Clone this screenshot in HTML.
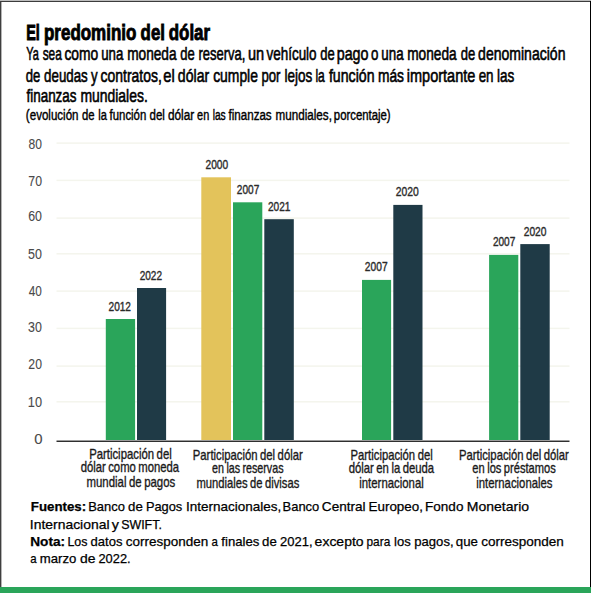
<!DOCTYPE html><html><head><meta charset="utf-8"><style>html,body{margin:0;padding:0;background:#fff;width:591px;height:593px;overflow:hidden}svg{display:block}text{font-family:"Liberation Sans",sans-serif}</style></head><body><svg width="591" height="593" viewBox="0 0 591 593"><rect x="0" y="0" width="591" height="593" fill="#fff"/><rect x="0" y="0" width="591" height="1" fill="#bdbdbd"/><rect x="0" y="1" width="591" height="1" fill="#3c3c3c"/><rect x="0" y="1" width="1" height="586" fill="#3f3f3f"/><rect x="1" y="2" width="1" height="585" fill="#b4b4b4"/><rect x="590" y="1" width="1" height="586" fill="#000"/><rect x="0" y="587" width="591" height="6" fill="#2aa55a"/><rect x="56.5" y="142.35" width="513" height="1.5" fill="#f4f5ed"/><rect x="56.5" y="179.65" width="513" height="1.5" fill="#f4f5ed"/><rect x="56.5" y="217.35" width="513" height="1.5" fill="#f4f5ed"/><rect x="56.5" y="253.05" width="513" height="1.5" fill="#f4f5ed"/><rect x="56.5" y="290.35" width="513" height="1.5" fill="#f4f5ed"/><rect x="56.5" y="327.65" width="513" height="1.5" fill="#f4f5ed"/><rect x="56.5" y="365.35" width="513" height="1.5" fill="#f4f5ed"/><rect x="56.5" y="401.05" width="513" height="1.5" fill="#f4f5ed"/><rect x="105.80" y="319.00" width="29.30" height="121.00" fill="#2aa55a"/><rect x="137.00" y="288.00" width="29.10" height="152.00" fill="#1f3a46"/><rect x="201.30" y="177.30" width="29.70" height="262.70" fill="#e3c35b"/><rect x="233.00" y="202.30" width="29.30" height="237.70" fill="#2aa55a"/><rect x="264.30" y="219.20" width="29.50" height="220.80" fill="#1f3a46"/><rect x="362.00" y="279.90" width="29.10" height="160.10" fill="#2aa55a"/><rect x="393.30" y="204.90" width="29.20" height="235.10" fill="#1f3a46"/><rect x="489.10" y="254.90" width="29.20" height="185.10" fill="#2aa55a"/><rect x="520.30" y="244.10" width="29.40" height="195.90" fill="#1f3a46"/><rect x="56.5" y="440" width="513" height="1" fill="#9c9c9c"/><rect x="56.5" y="441" width="513" height="1" fill="#2f2f2f"/><text x="26.16" y="39.70" font-size="21.80" font-weight="bold" fill="#000" stroke="#000" stroke-width="0.9" textLength="13.62" lengthAdjust="spacingAndGlyphs">El</text><text x="43.99" y="39.70" font-size="21.80" font-weight="bold" fill="#000" stroke="#000" stroke-width="0.9" textLength="92.36" lengthAdjust="spacingAndGlyphs">predominio</text><text x="140.61" y="39.70" font-size="21.80" font-weight="bold" fill="#000" stroke="#000" stroke-width="0.9" textLength="24.31" lengthAdjust="spacingAndGlyphs">del</text><text x="168.77" y="39.70" font-size="21.80" font-weight="bold" fill="#000" stroke="#000" stroke-width="0.9" textLength="41.26" lengthAdjust="spacingAndGlyphs">dólar</text><text x="26.17" y="60.30" font-size="19.00" font-weight="normal" fill="#000" stroke="#000" stroke-width="0.6" textLength="12.58" lengthAdjust="spacingAndGlyphs">Ya</text><text x="42.66" y="60.30" font-size="19.00" font-weight="normal" fill="#000" stroke="#000" stroke-width="0.6" textLength="19.15" lengthAdjust="spacingAndGlyphs">sea</text><text x="64.39" y="60.30" font-size="19.00" font-weight="normal" fill="#000" stroke="#000" stroke-width="0.6" textLength="33.83" lengthAdjust="spacingAndGlyphs">como</text><text x="101.15" y="60.30" font-size="19.00" font-weight="normal" fill="#000" stroke="#000" stroke-width="0.6" textLength="22.14" lengthAdjust="spacingAndGlyphs">una</text><text x="127.17" y="60.30" font-size="19.00" font-weight="normal" fill="#000" stroke="#000" stroke-width="0.6" textLength="49.41" lengthAdjust="spacingAndGlyphs">moneda</text><text x="180.17" y="60.30" font-size="19.00" font-weight="normal" fill="#000" stroke="#000" stroke-width="0.6" textLength="14.49" lengthAdjust="spacingAndGlyphs">de</text><text x="198.46" y="60.30" font-size="19.00" font-weight="normal" fill="#000" stroke="#000" stroke-width="0.6" textLength="46.98" lengthAdjust="spacingAndGlyphs">reserva,</text><text x="247.98" y="60.30" font-size="19.00" font-weight="normal" fill="#000" stroke="#000" stroke-width="0.6" textLength="16.21" lengthAdjust="spacingAndGlyphs">un</text><text x="266.50" y="60.30" font-size="19.00" font-weight="normal" fill="#000" stroke="#000" stroke-width="0.6" textLength="50.08" lengthAdjust="spacingAndGlyphs">vehículo</text><text x="320.17" y="60.30" font-size="19.00" font-weight="normal" fill="#000" stroke="#000" stroke-width="0.6" textLength="14.49" lengthAdjust="spacingAndGlyphs">de</text><text x="336.71" y="60.30" font-size="19.00" font-weight="normal" fill="#000" stroke="#000" stroke-width="0.6" textLength="31.78" lengthAdjust="spacingAndGlyphs">pago</text><text x="370.97" y="60.30" font-size="19.00" font-weight="normal" fill="#000" stroke="#000" stroke-width="0.6" textLength="7.41" lengthAdjust="spacingAndGlyphs">o</text><text x="381.33" y="60.30" font-size="19.00" font-weight="normal" fill="#000" stroke="#000" stroke-width="0.6" textLength="22.26" lengthAdjust="spacingAndGlyphs">una</text><text x="407.18" y="60.30" font-size="19.00" font-weight="normal" fill="#000" stroke="#000" stroke-width="0.6" textLength="49.45" lengthAdjust="spacingAndGlyphs">moneda</text><text x="460.66" y="60.30" font-size="19.00" font-weight="normal" fill="#000" stroke="#000" stroke-width="0.6" textLength="14.54" lengthAdjust="spacingAndGlyphs">de</text><text x="478.10" y="60.30" font-size="19.00" font-weight="normal" fill="#000" stroke="#000" stroke-width="0.6" textLength="87.34" lengthAdjust="spacingAndGlyphs">denominación</text><text x="25.82" y="81.50" font-size="19.00" font-weight="normal" fill="#000" stroke="#000" stroke-width="0.6" textLength="14.60" lengthAdjust="spacingAndGlyphs">de</text><text x="44.12" y="81.50" font-size="19.00" font-weight="normal" fill="#000" stroke="#000" stroke-width="0.6" textLength="43.63" lengthAdjust="spacingAndGlyphs">deudas</text><text x="91.10" y="81.50" font-size="19.00" font-weight="normal" fill="#000" stroke="#000" stroke-width="0.6" textLength="6.60" lengthAdjust="spacingAndGlyphs">y</text><text x="100.62" y="81.50" font-size="19.00" font-weight="normal" fill="#000" stroke="#000" stroke-width="0.6" textLength="61.24" lengthAdjust="spacingAndGlyphs">contratos,</text><text x="163.34" y="81.50" font-size="19.00" font-weight="normal" fill="#000" stroke="#000" stroke-width="0.6" textLength="11.46" lengthAdjust="spacingAndGlyphs">el</text><text x="177.86" y="81.50" font-size="19.00" font-weight="normal" fill="#000" stroke="#000" stroke-width="0.6" textLength="31.31" lengthAdjust="spacingAndGlyphs">dólar</text><text x="213.14" y="81.50" font-size="19.00" font-weight="normal" fill="#000" stroke="#000" stroke-width="0.6" textLength="44.79" lengthAdjust="spacingAndGlyphs">cumple</text><text x="261.43" y="81.50" font-size="19.00" font-weight="normal" fill="#000" stroke="#000" stroke-width="0.6" textLength="19.03" lengthAdjust="spacingAndGlyphs">por</text><text x="284.42" y="81.50" font-size="19.00" font-weight="normal" fill="#000" stroke="#000" stroke-width="0.6" textLength="27.77" lengthAdjust="spacingAndGlyphs">lejos</text><text x="315.43" y="81.50" font-size="19.00" font-weight="normal" fill="#000" stroke="#000" stroke-width="0.6" textLength="9.40" lengthAdjust="spacingAndGlyphs">la</text><text x="328.92" y="81.50" font-size="19.00" font-weight="normal" fill="#000" stroke="#000" stroke-width="0.6" textLength="45.62" lengthAdjust="spacingAndGlyphs">función</text><text x="377.96" y="81.50" font-size="19.00" font-weight="normal" fill="#000" stroke="#000" stroke-width="0.6" textLength="26.07" lengthAdjust="spacingAndGlyphs">más</text><text x="406.73" y="81.50" font-size="19.00" font-weight="normal" fill="#000" stroke="#000" stroke-width="0.6" textLength="68.64" lengthAdjust="spacingAndGlyphs">importante</text><text x="478.66" y="81.50" font-size="19.00" font-weight="normal" fill="#000" stroke="#000" stroke-width="0.6" textLength="14.93" lengthAdjust="spacingAndGlyphs">en</text><text x="496.88" y="81.50" font-size="19.00" font-weight="normal" fill="#000" stroke="#000" stroke-width="0.6" textLength="17.32" lengthAdjust="spacingAndGlyphs">las</text><text x="26.47" y="101.70" font-size="19.00" font-weight="normal" fill="#000" stroke="#000" stroke-width="0.6" textLength="50.06" lengthAdjust="spacingAndGlyphs">finanzas</text><text x="80.39" y="101.70" font-size="19.00" font-weight="normal" fill="#000" stroke="#000" stroke-width="0.6" textLength="67.41" lengthAdjust="spacingAndGlyphs">mundiales.</text><text x="25.87" y="120.20" font-size="14.00" font-weight="normal" fill="#000" stroke="#000" stroke-width="0.4" textLength="52.67" lengthAdjust="spacingAndGlyphs">(evolución</text><text x="82.09" y="120.20" font-size="14.00" font-weight="normal" fill="#000" stroke="#000" stroke-width="0.4" textLength="12.55" lengthAdjust="spacingAndGlyphs">de</text><text x="98.31" y="120.20" font-size="14.00" font-weight="normal" fill="#000" stroke="#000" stroke-width="0.4" textLength="8.63" lengthAdjust="spacingAndGlyphs">la</text><text x="109.54" y="120.20" font-size="14.00" font-weight="normal" fill="#000" stroke="#000" stroke-width="0.4" textLength="36.76" lengthAdjust="spacingAndGlyphs">función</text><text x="149.54" y="120.20" font-size="14.00" font-weight="normal" fill="#000" stroke="#000" stroke-width="0.4" textLength="15.36" lengthAdjust="spacingAndGlyphs">del</text><text x="167.88" y="120.20" font-size="14.00" font-weight="normal" fill="#000" stroke="#000" stroke-width="0.4" textLength="26.26" lengthAdjust="spacingAndGlyphs">dólar</text><text x="197.11" y="120.20" font-size="14.00" font-weight="normal" fill="#000" stroke="#000" stroke-width="0.4" textLength="12.16" lengthAdjust="spacingAndGlyphs">en</text><text x="212.65" y="120.20" font-size="14.00" font-weight="normal" fill="#000" stroke="#000" stroke-width="0.4" textLength="13.05" lengthAdjust="spacingAndGlyphs">las</text><text x="228.55" y="120.20" font-size="14.00" font-weight="normal" fill="#000" stroke="#000" stroke-width="0.4" textLength="43.12" lengthAdjust="spacingAndGlyphs">finanzas</text><text x="275.55" y="120.20" font-size="14.00" font-weight="normal" fill="#000" stroke="#000" stroke-width="0.4" textLength="56.36" lengthAdjust="spacingAndGlyphs">mundiales,</text><text x="333.82" y="120.20" font-size="14.00" font-weight="normal" fill="#000" stroke="#000" stroke-width="0.4" textLength="56.83" lengthAdjust="spacingAndGlyphs">porcentaje)</text><text x="89.14" y="458.50" font-size="14.20" font-weight="normal" fill="#1a1a1a" stroke="#1a1a1a" stroke-width="0.35" word-spacing="-0.8" textLength="82.60" lengthAdjust="spacingAndGlyphs">Participación del</text><text x="80.63" y="472.40" font-size="14.20" font-weight="normal" fill="#1a1a1a" stroke="#1a1a1a" stroke-width="0.35" word-spacing="-0.8" textLength="98.51" lengthAdjust="spacingAndGlyphs">dólar como moneda</text><text x="86.49" y="487.10" font-size="14.20" font-weight="normal" fill="#1a1a1a" stroke="#1a1a1a" stroke-width="0.35" word-spacing="-0.8" textLength="88.72" lengthAdjust="spacingAndGlyphs">mundial de pagos</text><text x="192.80" y="459.50" font-size="14.20" font-weight="normal" fill="#1a1a1a" stroke="#1a1a1a" stroke-width="0.35" word-spacing="-0.8" textLength="109.94" lengthAdjust="spacingAndGlyphs">Participación del dólar</text><text x="212.09" y="473.30" font-size="14.20" font-weight="normal" fill="#1a1a1a" stroke="#1a1a1a" stroke-width="0.35" word-spacing="-0.8" textLength="71.47" lengthAdjust="spacingAndGlyphs">en las reservas</text><text x="196.49" y="488.00" font-size="14.20" font-weight="normal" fill="#1a1a1a" stroke="#1a1a1a" stroke-width="0.35" word-spacing="-0.8" textLength="102.77" lengthAdjust="spacingAndGlyphs">mundiales de divisas</text><text x="350.57" y="459.50" font-size="14.20" font-weight="normal" fill="#1a1a1a" stroke="#1a1a1a" stroke-width="0.35" word-spacing="-0.8" textLength="82.13" lengthAdjust="spacingAndGlyphs">Participación del</text><text x="348.69" y="473.30" font-size="14.20" font-weight="normal" fill="#1a1a1a" stroke="#1a1a1a" stroke-width="0.35" word-spacing="-0.8" textLength="85.43" lengthAdjust="spacingAndGlyphs">dólar en la deuda</text><text x="359.27" y="488.00" font-size="14.20" font-weight="normal" fill="#1a1a1a" stroke="#1a1a1a" stroke-width="0.35" word-spacing="-0.8" textLength="64.53" lengthAdjust="spacingAndGlyphs">internacional</text><text x="459.00" y="459.50" font-size="14.20" font-weight="normal" fill="#1a1a1a" stroke="#1a1a1a" stroke-width="0.35" word-spacing="-0.8" textLength="109.78" lengthAdjust="spacingAndGlyphs">Participación del dólar</text><text x="472.37" y="473.30" font-size="14.20" font-weight="normal" fill="#1a1a1a" stroke="#1a1a1a" stroke-width="0.35" word-spacing="-0.8" textLength="83.33" lengthAdjust="spacingAndGlyphs">en los préstamos</text><text x="476.27" y="488.00" font-size="14.20" font-weight="normal" fill="#1a1a1a" stroke="#1a1a1a" stroke-width="0.35" word-spacing="-0.8" textLength="76.24" lengthAdjust="spacingAndGlyphs">internacionales</text><text x="30.82" y="510.50" font-size="13.00" font-weight="bold" fill="#000" stroke="#000" stroke-width="0.25" textLength="55.33" lengthAdjust="spacingAndGlyphs">Fuentes:</text><text x="88.24" y="510.50" font-size="13.00" font-weight="normal" fill="#000" stroke="#000" stroke-width="0.25" textLength="36.70" lengthAdjust="spacingAndGlyphs">Banco</text><text x="128.04" y="510.50" font-size="13.00" font-weight="normal" fill="#000" stroke="#000" stroke-width="0.25" textLength="14.72" lengthAdjust="spacingAndGlyphs">de</text><text x="145.90" y="510.50" font-size="13.00" font-weight="normal" fill="#000" stroke="#000" stroke-width="0.25" textLength="36.40" lengthAdjust="spacingAndGlyphs">Pagos</text><text x="185.97" y="510.50" font-size="13.00" font-weight="normal" fill="#000" stroke="#000" stroke-width="0.25" textLength="95.26" lengthAdjust="spacingAndGlyphs">Internacionales,</text><text x="282.55" y="510.50" font-size="13.00" font-weight="normal" fill="#000" stroke="#000" stroke-width="0.25" textLength="36.77" lengthAdjust="spacingAndGlyphs">Banco</text><text x="321.89" y="510.50" font-size="13.00" font-weight="normal" fill="#000" stroke="#000" stroke-width="0.25" textLength="43.72" lengthAdjust="spacingAndGlyphs">Central</text><text x="368.49" y="510.50" font-size="13.00" font-weight="normal" fill="#000" stroke="#000" stroke-width="0.25" textLength="54.49" lengthAdjust="spacingAndGlyphs">Europeo,</text><text x="425.10" y="510.50" font-size="13.00" font-weight="normal" fill="#000" stroke="#000" stroke-width="0.25" textLength="38.32" lengthAdjust="spacingAndGlyphs">Fondo</text><text x="466.77" y="510.50" font-size="13.00" font-weight="normal" fill="#000" stroke="#000" stroke-width="0.25" textLength="62.27" lengthAdjust="spacingAndGlyphs">Monetario</text><text x="29.86" y="528.50" font-size="13.00" font-weight="normal" fill="#000" stroke="#000" stroke-width="0.25" textLength="79.65" lengthAdjust="spacingAndGlyphs">Internacional</text><text x="111.70" y="528.50" font-size="13.00" font-weight="normal" fill="#000" stroke="#000" stroke-width="0.25" textLength="7.14" lengthAdjust="spacingAndGlyphs">y</text><text x="121.14" y="528.50" font-size="13.00" font-weight="normal" fill="#000" stroke="#000" stroke-width="0.25" textLength="40.72" lengthAdjust="spacingAndGlyphs">SWIFT.</text><text x="30.26" y="545.60" font-size="13.00" font-weight="bold" fill="#000" stroke="#000" stroke-width="0.25" textLength="34.85" lengthAdjust="spacingAndGlyphs">Nota:</text><text x="67.43" y="545.60" font-size="13.00" font-weight="normal" fill="#000" stroke="#000" stroke-width="0.25" textLength="20.06" lengthAdjust="spacingAndGlyphs">Los</text><text x="90.55" y="545.60" font-size="13.00" font-weight="normal" fill="#000" stroke="#000" stroke-width="0.25" textLength="31.87" lengthAdjust="spacingAndGlyphs">datos</text><text x="125.66" y="545.60" font-size="13.00" font-weight="normal" fill="#000" stroke="#000" stroke-width="0.25" textLength="82.48" lengthAdjust="spacingAndGlyphs">corresponden</text><text x="211.52" y="545.60" font-size="13.00" font-weight="normal" fill="#000" stroke="#000" stroke-width="0.25" textLength="6.39" lengthAdjust="spacingAndGlyphs">a</text><text x="221.37" y="545.60" font-size="13.00" font-weight="normal" fill="#000" stroke="#000" stroke-width="0.25" textLength="38.05" lengthAdjust="spacingAndGlyphs">finales</text><text x="262.12" y="545.60" font-size="13.00" font-weight="normal" fill="#000" stroke="#000" stroke-width="0.25" textLength="14.71" lengthAdjust="spacingAndGlyphs">de</text><text x="279.98" y="545.60" font-size="13.00" font-weight="normal" fill="#000" stroke="#000" stroke-width="0.25" textLength="32.54" lengthAdjust="spacingAndGlyphs">2021,</text><text x="314.64" y="545.60" font-size="13.00" font-weight="normal" fill="#000" stroke="#000" stroke-width="0.25" textLength="48.97" lengthAdjust="spacingAndGlyphs">excepto</text><text x="366.53" y="545.60" font-size="13.00" font-weight="normal" fill="#000" stroke="#000" stroke-width="0.25" textLength="23.73" lengthAdjust="spacingAndGlyphs">para</text><text x="394.11" y="545.60" font-size="13.00" font-weight="normal" fill="#000" stroke="#000" stroke-width="0.25" textLength="16.68" lengthAdjust="spacingAndGlyphs">los</text><text x="414.30" y="545.60" font-size="13.00" font-weight="normal" fill="#000" stroke="#000" stroke-width="0.25" textLength="39.27" lengthAdjust="spacingAndGlyphs">pagos,</text><text x="455.80" y="545.60" font-size="13.00" font-weight="normal" fill="#000" stroke="#000" stroke-width="0.25" textLength="22.13" lengthAdjust="spacingAndGlyphs">que</text><text x="481.30" y="545.60" font-size="13.00" font-weight="normal" fill="#000" stroke="#000" stroke-width="0.25" textLength="82.57" lengthAdjust="spacingAndGlyphs">corresponden</text><text x="30.21" y="563.40" font-size="13.00" font-weight="normal" fill="#000" stroke="#000" stroke-width="0.25" textLength="6.36" lengthAdjust="spacingAndGlyphs">a</text><text x="39.77" y="563.40" font-size="13.00" font-weight="normal" fill="#000" stroke="#000" stroke-width="0.25" textLength="36.50" lengthAdjust="spacingAndGlyphs">marzo</text><text x="80.05" y="563.40" font-size="13.00" font-weight="normal" fill="#000" stroke="#000" stroke-width="0.25" textLength="15.47" lengthAdjust="spacingAndGlyphs">de</text><text x="98.44" y="563.40" font-size="13.00" font-weight="normal" fill="#000" stroke="#000" stroke-width="0.25" textLength="32.17" lengthAdjust="spacingAndGlyphs">2022.</text><text x="108.54" y="310.70" font-size="13.60" font-weight="normal" fill="#2a2a2a" stroke="#2a2a2a" stroke-width="0.4" textLength="22.45" lengthAdjust="spacingAndGlyphs">2012</text><text x="139.63" y="280.30" font-size="13.60" font-weight="normal" fill="#2a2a2a" stroke="#2a2a2a" stroke-width="0.4" textLength="22.34" lengthAdjust="spacingAndGlyphs">2022</text><text x="205.51" y="168.60" font-size="13.60" font-weight="normal" fill="#2a2a2a" stroke="#2a2a2a" stroke-width="0.4" textLength="22.64" lengthAdjust="spacingAndGlyphs">2000</text><text x="236.84" y="194.10" font-size="13.60" font-weight="normal" fill="#2a2a2a" stroke="#2a2a2a" stroke-width="0.4" textLength="22.41" lengthAdjust="spacingAndGlyphs">2007</text><text x="267.88" y="211.40" font-size="13.60" font-weight="normal" fill="#2a2a2a" stroke="#2a2a2a" stroke-width="0.4" textLength="22.52" lengthAdjust="spacingAndGlyphs">2021</text><text x="364.85" y="270.80" font-size="13.60" font-weight="normal" fill="#2a2a2a" stroke="#2a2a2a" stroke-width="0.4" textLength="22.73" lengthAdjust="spacingAndGlyphs">2007</text><text x="395.83" y="196.30" font-size="13.60" font-weight="normal" fill="#2a2a2a" stroke="#2a2a2a" stroke-width="0.4" textLength="23.00" lengthAdjust="spacingAndGlyphs">2020</text><text x="492.88" y="245.70" font-size="13.60" font-weight="normal" fill="#2a2a2a" stroke="#2a2a2a" stroke-width="0.4" textLength="22.38" lengthAdjust="spacingAndGlyphs">2007</text><text x="523.71" y="236.00" font-size="13.60" font-weight="normal" fill="#2a2a2a" stroke="#2a2a2a" stroke-width="0.4" textLength="22.77" lengthAdjust="spacingAndGlyphs">2020</text><text x="28.53" y="149.10" font-size="15.50" font-weight="normal" fill="#4a4a4a" stroke="#4a4a4a" stroke-width="0.1" textLength="13.42" lengthAdjust="spacingAndGlyphs">80</text><text x="28.32" y="186.10" font-size="15.50" font-weight="normal" fill="#4a4a4a" stroke="#4a4a4a" stroke-width="0.1" textLength="13.66" lengthAdjust="spacingAndGlyphs">70</text><text x="28.13" y="221.40" font-size="15.50" font-weight="normal" fill="#4a4a4a" stroke="#4a4a4a" stroke-width="0.1" textLength="13.80" lengthAdjust="spacingAndGlyphs">60</text><text x="28.03" y="259.10" font-size="15.50" font-weight="normal" fill="#4a4a4a" stroke="#4a4a4a" stroke-width="0.1" textLength="13.90" lengthAdjust="spacingAndGlyphs">50</text><text x="28.79" y="296.30" font-size="15.50" font-weight="normal" fill="#4a4a4a" stroke="#4a4a4a" stroke-width="0.1" textLength="13.10" lengthAdjust="spacingAndGlyphs">40</text><text x="28.07" y="332.20" font-size="15.50" font-weight="normal" fill="#4a4a4a" stroke="#4a4a4a" stroke-width="0.1" textLength="13.83" lengthAdjust="spacingAndGlyphs">30</text><text x="28.36" y="369.00" font-size="15.50" font-weight="normal" fill="#4a4a4a" stroke="#4a4a4a" stroke-width="0.1" textLength="13.60" lengthAdjust="spacingAndGlyphs">20</text><text x="27.79" y="407.10" font-size="15.50" font-weight="normal" fill="#4a4a4a" stroke="#4a4a4a" stroke-width="0.1" textLength="14.20" lengthAdjust="spacingAndGlyphs">10</text><text x="34.16" y="444.30" font-size="15.50" font-weight="normal" fill="#4a4a4a" stroke="#4a4a4a" stroke-width="0.1" textLength="8.30" lengthAdjust="spacingAndGlyphs">0</text></svg></body></html>
